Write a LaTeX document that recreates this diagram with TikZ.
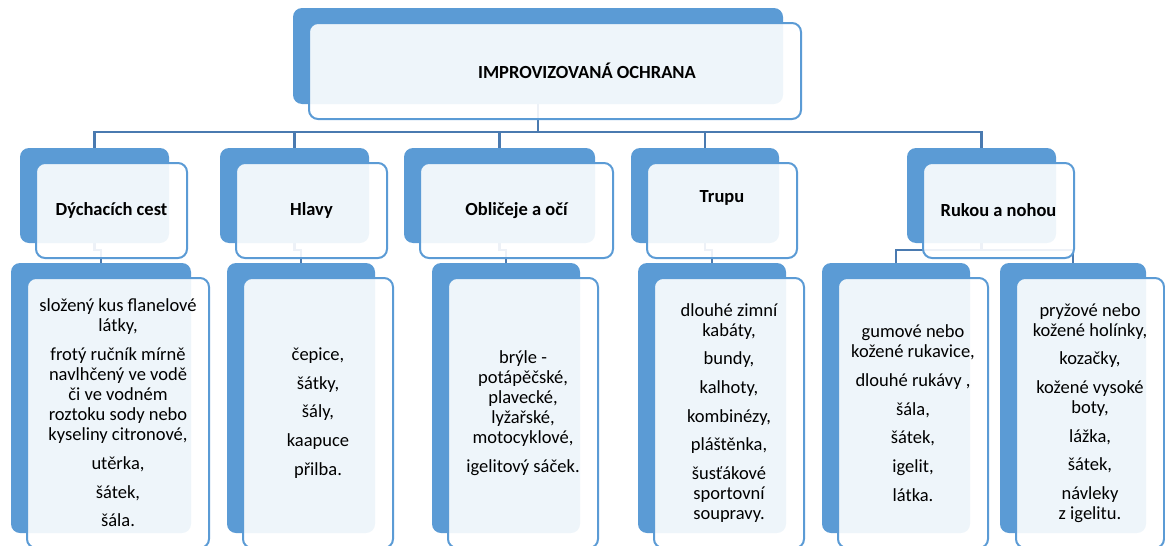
\documentclass[tikz,border=0pt]{standalone}
\usepackage{fontspec}
\setmainfont{Carlito}
\usetikzlibrary{backgrounds,calc}
\definecolor{accent}{HTML}{5B9BD5}
\definecolor{linkblue}{HTML}{4A7AB0}
\newcommand{\pgap}{\\[8.7pt]}

\begin{document}
\begin{tikzpicture}[x=1pt,y=-1pt,
 box/.style={draw=accent,line width=2pt,fill=white,fill opacity=0.9,text opacity=1,rounded corners=9pt,align=center,font=\fontsize{18.5}{20}\selectfont},
 head/.style={box,font=\fontsize{18.5}{20}\selectfont\bfseries,minimum height=95pt},
 list/.style={box,minimum height=270pt},
 shade/.style={fill=accent,rounded corners=9pt},
 link/.style={draw=linkblue,line width=2.6pt}
]
\path[use as bounding box] (0,0) rectangle (1165,546);
\node[head,minimum width=492pt,minimum height=96pt] (top) at (555,71) {\hspace*{64pt}IMPROVIZOVANÁ OCHRANA};
\node[head,minimum width=151pt] (dych) at (111.5,210.5) {Dýchacích cest};
\node[head,minimum width=151pt] (hlavy) at (311.5,210.5) {Hlavy};
\node[head,minimum width=193pt] (obl) at (516.5,210.5) {Obličeje a očí};
\node[head,minimum width=150pt] (trupu) at (722,210.5) {\raisebox{12.5pt}[\height][\depth]{Trupu}};
\node[head,minimum width=151pt] (ruk) at (998.5,210.5) {Rukou a nohou};
\node[list,minimum width=182pt] (dychL) at (118,413) {složený kus flanelové\\látky,\pgap frotý ručník mírně\\navlhčený ve vodě\\či ve vodném\\roztoku sody nebo\\kyseliny citronové,\pgap utěrka,\pgap šátek,\pgap šála.};
\node[list,minimum width=150pt] (hlavyL) at (318,413) {čepice,\pgap šátky,\pgap šály,\pgap kaapuce\pgap přilba.};
\node[list,minimum width=150pt] (oblL) at (523,413) {brýle -\\potápěčské,\\plavecké,\\lyžařské,\\motocyklové,\pgap igelitový sáček.};
\node[list,minimum width=150pt] (trupuL) at (729,413) {dlouhé zimní\\kabáty,\pgap bundy,\pgap kalhoty,\pgap kombinézy,\pgap pláštěnka,\pgap šusťákové\\sportovní\\soupravy.};
\node[list,minimum width=150pt] (rukA) at (913,413) {gumové nebo\\kožené rukavice,\pgap dlouhé rukávy ,\pgap šála,\pgap šátek,\pgap igelit,\pgap látka.};
\node[list,minimum width=148pt] (rukB) at (1090,413) {pryžové nebo\\kožené holínky,\pgap kozačky,\pgap kožené vysoké\\boty,\pgap lážka,\pgap šátek,\pgap návleky\\z igelitu.};
\begin{scope}[on background layer]
\coordinate (bus) at (0,132);
\foreach \n in {top,dych,hlavy,obl,trupu,ruk,dychL,hlavyL,oblL,trupuL,rukA,rukB}{
  \coordinate (\n-t) at ([shift={(-17,-14)}]\n.north);
  \coordinate (\n-b) at ([shift={(-17,-16)}]\n.south);
}
\foreach \n in {dych,hlavy,obl,trupu,ruk}
  \draw[link] (top-b) |- (bus -| \n-t) -- (\n-t);
\foreach \p/\c in {dych/dychL,hlavy/hlavyL,obl/oblL,trupu/trupuL,ruk/rukA,ruk/rukB}
  \draw[link] (\p-b) -- ++(0,7) -| (\c-t);
\foreach \n in {top,dych,hlavy,obl,trupu,ruk,dychL,hlavyL,oblL,trupuL,rukA,rukB}
  \fill[shade] ([shift={(-15,-14)}]\n.north west) rectangle ([shift={(-19,-16)}]\n.south east);
\end{scope}
\end{tikzpicture}
\end{document}
